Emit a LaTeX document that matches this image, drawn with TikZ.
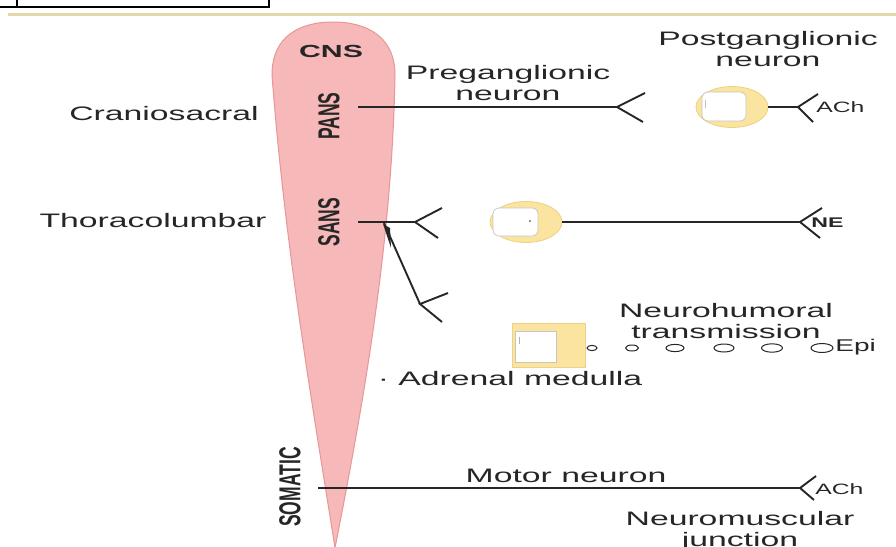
\documentclass[tikz,border=0pt]{standalone}
\usepackage{fontspec}
\setmainfont{Liberation Sans}
\usetikzlibrary{shapes.geometric}
\definecolor{pinkfill}{RGB}{246,184,184}
\definecolor{pinkedge}{RGB}{232,150,150}
\definecolor{somafill}{RGB}{250,228,160}
\definecolor{somaedge}{RGB}{238,210,132}
\definecolor{ink}{RGB}{38,38,38}
\definecolor{tanline}{RGB}{226,216,168}
\begin{document}
\begin{tikzpicture}[x=1pt,y=-1pt,
 lbl/.style={font=\fontsize{19.5}{21}\selectfont, xscale=1.73, text=ink, inner sep=0pt, align=center},
 small/.style={font=\fontsize{15}{17}\selectfont, xscale=1.65, text=ink, inner sep=0pt, anchor=west},
 rot/.style={font=\bfseries\fontsize{17.5}{20}\selectfont, xscale=1.73, rotate=90, text=ink, inner sep=0pt},
 axon/.style={draw=ink, line width=1.5pt},
 forkline/.style={draw=ink, line width=1.9pt, line join=miter},
 soma/.style={ellipse, fill=somafill, draw=somaedge, line width=0.8pt, minimum width=72pt, minimum height=41pt, inner sep=0pt},
 nucleus/.style={fill=white, draw=gray!45, line width=0.7pt, rounded corners=6pt},
 vesicle/.style={draw=ink, line width=1pt, fill=white}
]
\useasboundingbox (0,0) rectangle (896,546);
% top fragments
\draw[black, line width=2pt] (0,7) -- (269,7) -- (269,0);
\draw[black, line width=2pt] (17,0) -- (17,7);
\draw[tanline, line width=3pt] (8,14) -- (896,14);
% CNS cone
\path[fill=pinkfill, draw=pinkedge, line width=1pt]
  (272,75) .. controls (272,36) and (300,22) .. (333,22)
  .. controls (366,22) and (395,36) .. (395,75)
  .. controls (392,250) and (360,420) .. (335,548)
  .. controls (315,420) and (285,250) .. (272,75) -- cycle;
\node[font=\bfseries\fontsize{17.5}{20}\selectfont, xscale=1.73, text=ink, inner sep=0pt] (cns) at (331,51) {CNS};
\node[rot] (pans) at (329,116) {PANS};
\node[rot] (sans) at (329,222) {SANS};
\node[rot] (somatic) at (290,487) {SOMATIC};
% left labels
\node[lbl] (crs) at (164,114) {Craniosacral};
\node[lbl] (tcl) at (153,221) {Thoracolumbar};
% PANS pathway
\node[lbl] (pre) at (508,83) {Preganglionic\\neuron};
\node[lbl] (post) at (768,49) {Postganglionic\\neuron};
\coordinate (p0) at (358,107);
\coordinate (pf) at (617,107);
\draw[axon] (p0) -- (pf);
\draw[forkline] (pf) ++(28,-14) -- (pf) -- ++(26,15);
\node[soma] (ps) at (732,107) {};
\draw[nucleus] (702,92) rectangle (746,121);
\draw[gray!50, line width=0.6pt] (705,100) -- (705,108);
\coordinate (pf2) at (798,107);
\draw[axon] (ps.east) -- (pf2);
\draw[forkline] (pf2) ++(20,-13) -- (pf2) -- ++(15,15);
\node[small] (ach1) at (816,107) {ACh};
% SANS pathway
\coordinate (s0) at (358,222);
\coordinate (sf) at (415,222);
\draw[axon] (s0) -- (sf);
\draw[forkline] (sf) ++(27,-14) -- (sf) -- ++(23,16);
\node[soma] (ss) at (526,222) {};
\draw[nucleus] (493,208) rectangle (538,236);
\fill[ink] (530,221) circle (0.9pt);
\coordinate (sf2) at (800,222);
\draw[axon] (ss.east) -- (sf2);
\draw[forkline] (sf2) ++(22,-14) -- (sf2) -- ++(20,16);
\node[small, font=\bfseries\fontsize{14}{16}\selectfont] (ne) at (811,223) {NE};
% branch to adrenal
\coordinate (b0) at (384,223);
\coordinate (bf) at (420,304);
\draw[forkline] (b0) -- (bf);
\fill[ink] (383,224) -- (390,228) -- (391,248) -- cycle;
\draw[forkline] (bf) ++(28,-11) -- (bf) -- ++(22,18);
% adrenal medulla
\node[lbl] (nh) at (726,321) {Neurohumoral\\transmission};
\node[fill=somafill, draw=somaedge, line width=0.6pt, minimum width=73pt, minimum height=44pt, inner sep=0pt] (adbox) at (548.5,345) {};
\draw[fill=white, draw=gray!45, line width=0.7pt] (515,331) rectangle (556,362);
\draw[gray!60, line width=0.6pt] (519,337) -- (519,344);
\draw[vesicle] (592,348) ellipse [x radius=5, y radius=2.6];
\draw[vesicle] (632,348) ellipse [x radius=6.5, y radius=3];
\draw[vesicle] (675,348) ellipse [x radius=9, y radius=3.6];
\draw[vesicle] (724,348) ellipse [x radius=10, y radius=4];
\draw[vesicle] (772,348) ellipse [x radius=10.5, y radius=4.2];
\draw[vesicle] (822,348) ellipse [x radius=11, y radius=4.5];
\node[small, font=\fontsize{17}{19}\selectfont] (epi) at (835,347) {Epi};
\node[lbl] (adr) at (510,379) {· Adrenal medulla};
% somatic
\node[lbl] (mot) at (566,476) {Motor neuron};
\coordinate (m0) at (318,488);
\coordinate (mf) at (800,488);
\draw[axon] (m0) -- (mf);
\draw[forkline] (mf) ++(16,-12) -- (mf) -- ++(14,12);
\node[small] (ach2) at (815,489) {ACh};
\node[lbl] (nmj) at (740,531) {Neuromuscular\\junction};
\end{tikzpicture}
\end{document}
